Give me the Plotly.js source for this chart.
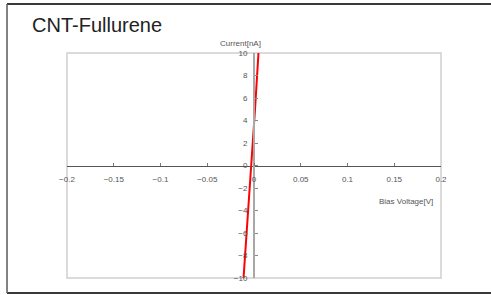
<!DOCTYPE html>
<html>
<head>
<meta charset="utf-8">
<script src="https://cdn.plot.ly/plotly-3.0.1.min.js"></script>
<style>html,body{margin:0;padding:0;background:#fff;}#chart{width:491px;height:295px;}</style>
</head>
<body>
<div id="chart"></div>
<script>
// Data
var chartTitle = "CNT-Fullurene";
var xAxisTitle = "Bias Voltage[V]";
var yAxisTitle = "Current[nA]";
var biasVoltage = [-0.0112, -0.0070, -0.0027, 0.0011, 0.0048];
var current = [-10, -5, 0, 5, 10];
var xRange = [-0.2, 0.2];
var yRange = [-10, 10];

var trace = {
  x: biasVoltage,
  y: current,
  mode: "lines",
  line: {color: "#ff0000", width: 2},
  hoverinfo: "skip",
  showlegend: false
};

var tickFont = {family: "Liberation Sans, Arial, sans-serif", size: 8, color: "#555"};

var layout = {
  width: 491,
  height: 295,
  margin: {l: 67, r: 50, t: 53, b: 17},
  paper_bgcolor: "#fff",
  plot_bgcolor: "#fff",
  showlegend: false,
  xaxis: {
    range: xRange,
    dtick: 0.05,
    tick0: -0.2,
    showgrid: false,
    zeroline: false,
    showline: true,
    linecolor: "#555",
    linewidth: 1,
    anchor: "free",
    position: 0.5,
    ticks: "inside",
    ticklen: 3,
    tickcolor: "#777",
    tickfont: tickFont,
    ticklabelstandoff: 6
  },
  yaxis: {
    range: yRange,
    dtick: 2,
    showgrid: false,
    zeroline: false,
    showline: true,
    linecolor: "#a8a8a8",
    linewidth: 2,
    anchor: "free",
    position: 0.5,
    ticks: "inside",
    ticklen: 3,
    tickcolor: "#888",
    tickfont: tickFont,
    ticksuffix: "\u2002"
  },
  shapes: [
    {type: "rect", xref: "paper", yref: "paper", x0: 0, x1: 1, y0: 0, y1: 1,
     line: {color: "#cfcfcf", width: 1.5}, layer: "below"},
    {type: "line", xref: "paper", yref: "paper", x0: -0.1604, x1: 1.14, y0: 1.2178, y1: 1.2178,
     line: {color: "#3a3a3a", width: 2}},
    {type: "line", xref: "paper", yref: "paper", x0: -0.1604, x1: 1.14, y0: -0.0667, y1: -0.0667,
     line: {color: "#3a3a3a", width: 2}},
    {type: "line", xref: "paper", yref: "paper", x0: -0.1604, x1: -0.1604, y0: -0.0667, y1: 1.2178,
     line: {color: "#5a5a5a", width: 1.5}}
  ],
  annotations: [
    {text: chartTitle, xref: "paper", yref: "paper", x: -0.0989, y: 1.1244,
     xanchor: "left", yanchor: "middle", showarrow: false,
     font: {family: "Liberation Sans, Arial, sans-serif", size: 20, color: "#222"}},
    {text: yAxisTitle, xref: "paper", yref: "paper", x: 0.463, y: 1.04,
     xanchor: "center", yanchor: "middle", showarrow: false,
     font: {family: "Liberation Sans, Arial, sans-serif", size: 8, color: "#555"}},
    {text: xAxisTitle, xref: "paper", yref: "paper", x: 0.985, y: 0.342,
     xanchor: "right", yanchor: "middle", showarrow: false,
     font: {family: "Liberation Sans, Arial, sans-serif", size: 8, color: "#555"}}
  ]
};

Plotly.newPlot("chart", [trace], layout, {staticPlot: true, displayModeBar: false});
</script>
</body>
</html>
